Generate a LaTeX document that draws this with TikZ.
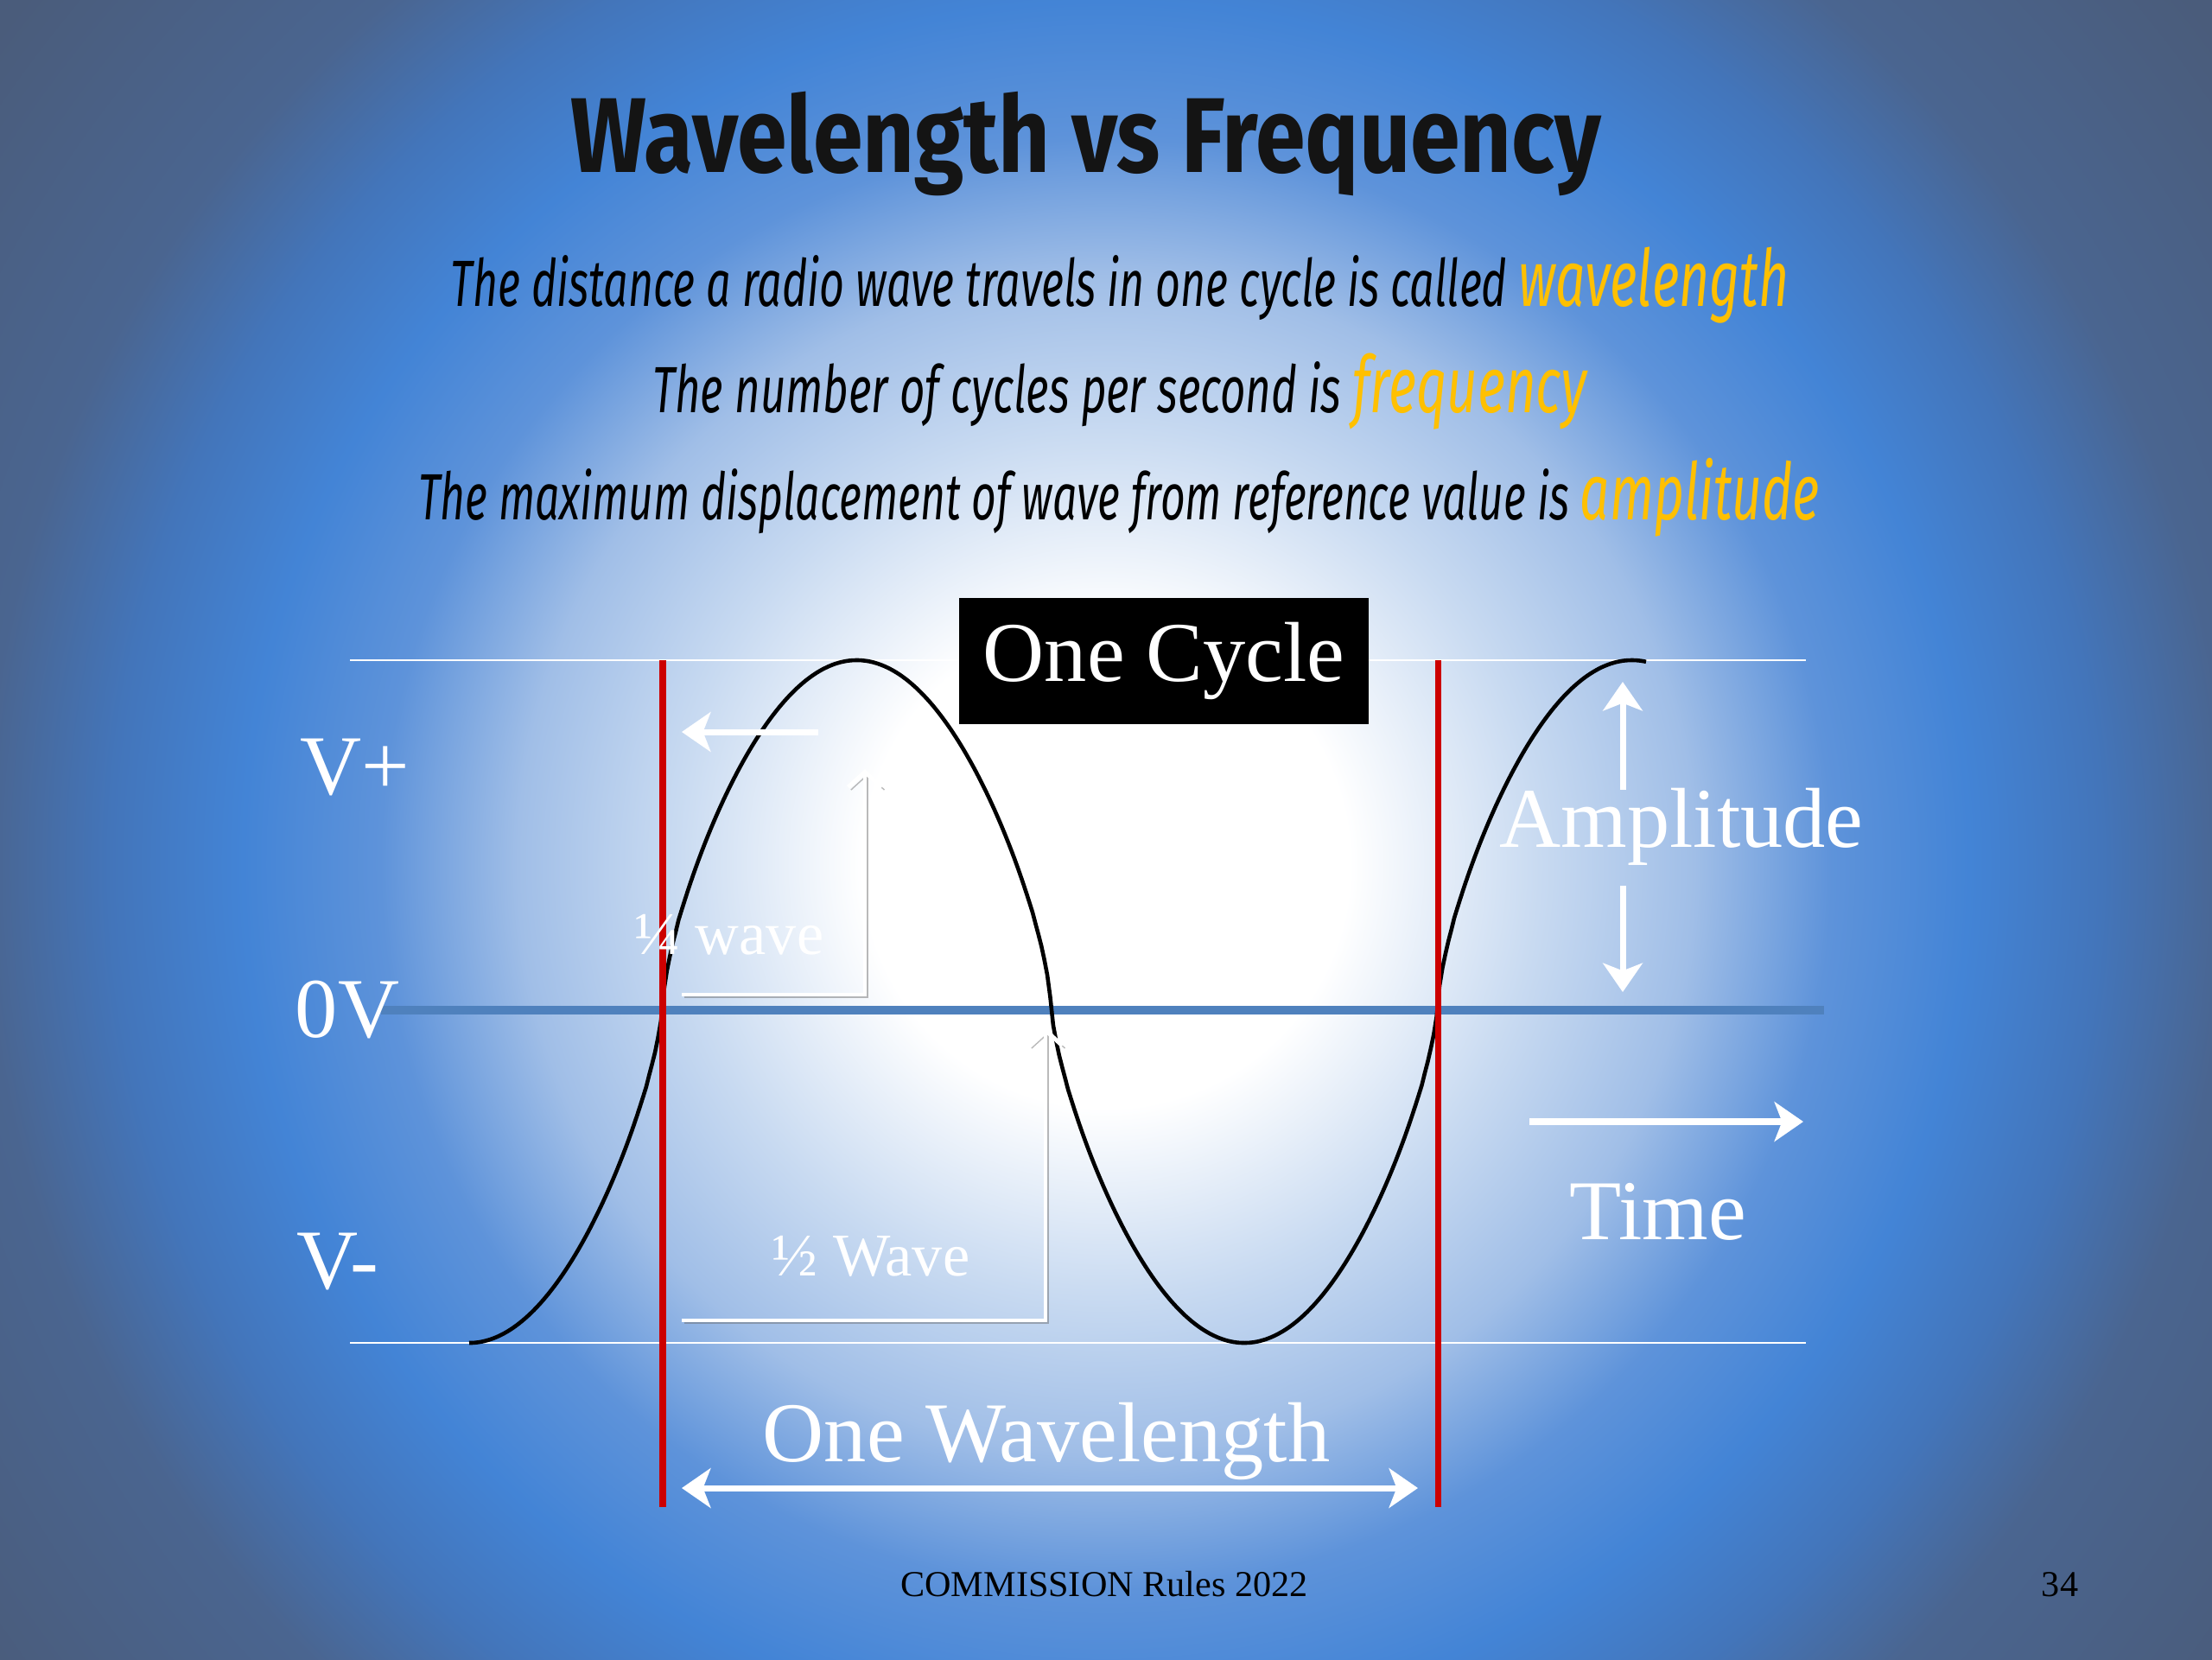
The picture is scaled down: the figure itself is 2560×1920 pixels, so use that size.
\documentclass[tikz,border=0pt]{standalone}
\usepackage{fontspec}
\usepackage{graphicx}
\setmainfont{Liberation Serif}
\newfontfamily\headfont{Fira Sans}
\usetikzlibrary{arrows.meta}

\definecolor{bgB}{HTML}{C8DAF1}
\definecolor{bgC}{HTML}{A0BEE7}
\definecolor{bgD}{HTML}{5E93DA}
\definecolor{bgE}{HTML}{4384D6}
\definecolor{bgF}{HTML}{4375BA}
\definecolor{bgG}{HTML}{4A6590}
\definecolor{bgH}{HTML}{4A5C7B}
\definecolor{gold}{HTML}{FFC000}
\definecolor{axisblue}{HTML}{4F81BD}
\definecolor{cyclered}{HTML}{CC0000}

\pgfdeclareradialshading{slidebg}{\pgfpoint{0bp}{0bp}}{color(0bp)=(white); color(5.5bp)=(white); color(9.8bp)=(bgB); color(13.3bp)=(bgC); color(16.4bp)=(bgD); color(19.5bp)=(bgE); color(22.5bp)=(bgF); color(25.4bp)=(bgG); color(31.3bp)=(bgH); color(50bp)=(bgH)}

\begin{document}
\begin{tikzpicture}[x=0.01cm, y=-0.01cm,
    biglabel/.style={text=white, font=\fontsize{28}{32}\selectfont, inner sep=0pt, anchor=base},
    smalllabel/.style={text=white, font=\fontsize{20}{24}\selectfont, inner sep=0pt, anchor=base},
    subline/.style={text=black, font=\headfont\itshape\fontsize{21.5}{26}\selectfont, inner sep=0pt, anchor=base},
    guide/.style={white, line width=0.6pt},
    cycleline/.style={cyclered, line width=2pt},
    wave/.style={black, line width=1.3pt},
    fatarrow/.style={white, line width=2pt, -{Stealth[length=9.5pt, width=13pt, inset=2.5pt]}},
    thinarrow/.style={white, line width=1.4pt, -{Straight Barb[length=5pt, width=11pt]},
        preaction={draw=black!60, draw opacity=0.45, transform canvas={xshift=0.9pt, yshift=-0.9pt}}}]
    \useasboundingbox (0,0) rectangle (2560,1920);
    \clip (0,0) rectangle (2560,1920);

    % Background
    \shade[shading=slidebg] (0,-280) rectangle (2560,2280);

    % Title and definitions
    \node[text=black!92, font=\headfont\bfseries\fontsize{35}{40}\selectfont, inner sep=0pt, anchor=base]
        (title) at (1257,199) {\resizebox{11.92cm}{\height}{Wavelength vs Frequency}};
    \node[subline] (defwave) at (1296,354)
        {\resizebox{15.48cm}{\height}{The distance a radio wave travels in one cycle is called \textcolor{gold}{\fontsize{26}{30}\selectfont wavelength}}};
    \node[subline] (deffreq) at (1296,477)
        {\resizebox{10.81cm}{\height}{The number of cycles per second is \textcolor{gold}{\fontsize{26}{30}\selectfont frequency}}};
    \node[subline] (defampl) at (1295,601)
        {\resizebox{16.21cm}{\height}{The maximum displacement of wave from reference value is \textcolor{gold}{\fontsize{26}{30}\selectfont amplitude}}};

    % Guide lines and 0V axis
    \draw[guide] (405,764) -- (2090,764);
    \draw[guide] (405,1554) -- (2090,1554);
    \draw[axisblue, line width=2.8pt] (441,1169) -- (2111,1169);

    % The wave
    \draw[wave] plot[domain=543:1905, samples=400]
        (\x, {1159 + 395*sign(cos((\x-543)/897*360))*(abs(cos((\x-543)/897*360))+0.00001)^0.7});

    % One cycle markers
    \foreach \xx in {767, 1664} {
        \draw[cycleline] (\xx,764) -- (\xx,1744);
    }

    % Arrows
    \coordinate (top-tail) at (947,847);
    \coordinate (top-tip) at (789,847);
    \draw[fatarrow] (top-tail) -- (top-tip);

    \coordinate (quarter-start) at (789,1151);
    \coordinate (quarter-tip) at (1001,890);
    \draw[thinarrow] (quarter-start) -| (quarter-tip);

    \coordinate (half-start) at (789,1528);
    \coordinate (half-tip) at (1210,1189);
    \draw[thinarrow] (half-start) -| (half-tip);

    \coordinate (amp-up0) at (1878,914);
    \coordinate (amp-up1) at (1878,789);
    \coordinate (amp-dn0) at (1878,1025);
    \coordinate (amp-dn1) at (1878,1148);
    \draw[fatarrow] (amp-up0) -- (amp-up1);
    \draw[fatarrow] (amp-dn0) -- (amp-dn1);

    \coordinate (time-a) at (1770,1298);
    \coordinate (time-b) at (2087,1298);
    \draw[fatarrow, line width=2.4pt] (time-a) -- (time-b);

    \coordinate (wl-l) at (789,1722);
    \coordinate (wl-r) at (1641,1722);
    \draw[fatarrow, {Stealth[length=9.5pt, width=13pt, inset=2.5pt]}-{Stealth[length=9.5pt, width=13pt, inset=2.5pt]}] (wl-l) -- (wl-r);

    % Labels
    \node[fill=black, text=white, font=\fontsize{28}{32}\selectfont, minimum width=4.74cm, minimum height=1.46cm, inner sep=0pt]
        (cycle) at (1347,765) {One Cycle};
    \node[biglabel] (vplus) at (411,919) {V+};
    \node[biglabel] (zerov) at (402,1200) {0V};
    \node[biglabel] (vminus) at (391,1491) {V-};
    \node[smalllabel] (quarter) at (844,1104) {¼ wave};
    \node[smalllabel] (half) at (1008,1476) {½ Wave};
    \node[biglabel] (ampl) at (1946,980) {Amplitude};
    \node[biglabel] (time) at (1919,1434) {Time};
    \node[biglabel] (wavelen) at (1211,1691) {One Wavelength};

    % Footer
    \node[font=\fontsize{12}{14}\selectfont, inner sep=0pt, anchor=base] (footer) at (1278,1847) {COMMISSION Rules 2022};
    \node[font=\fontsize{12}{14}\selectfont, inner sep=0pt, anchor=base] (pagenum) at (2384,1847) {34};
\end{tikzpicture}
\end{document}
